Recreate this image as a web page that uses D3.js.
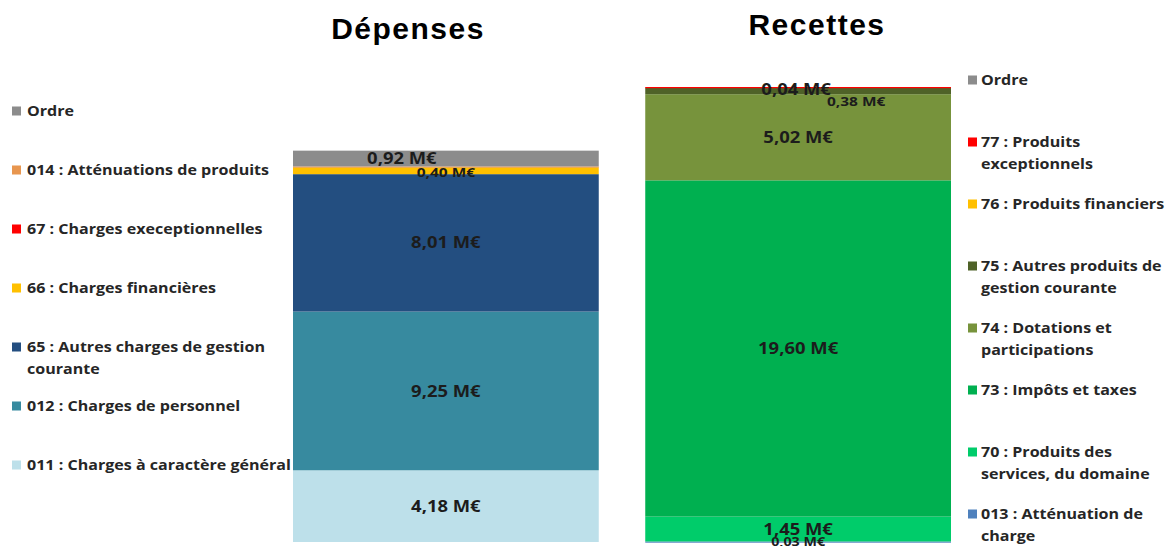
<!DOCTYPE html>
<html><head><meta charset="utf-8">
<script src="https://cdn.jsdelivr.net/npm/d3@7"></script>
<style>body{margin:0;background:#fff}svg{display:block}</style>
</head><body>
<svg id="c" width="1173" height="546"></svg>
<script>
// ----- data -----
const panels = ["Dépenses", "Recettes"];
// stacked from bottom to top
const depCategories = ["011 : Charges à caractère général", "012 : Charges de personnel", "65 : Autres charges de gestion courante", "66 : Charges financières", "67 : Charges execeptionnelles", "014 : Atténuations de produits", "Ordre"];
const depValues = [4.18, 9.25, 8.01, 0.40, 0.00, 0.05, 0.92];
const depLabels = ["4,18 M€", "9,25 M€", "8,01 M€", "0,40 M€", "", "", "0,92 M€"];
const depColors = ["#bde0ea", "#378a9f", "#234e80", "#ffc000", "#ff0000", "#e8964f", "#8c8c8c"];

const recCategories = ["013 : Atténuation de charge", "70 : Produits des services, du domaine", "73 : Impôts et taxes", "74 : Dotations et participations", "75 : Autres produits de gestion courante", "76 : Produits financiers", "77 : Produits exceptionnels", "Ordre"];
const recValues = [0.03, 1.45, 19.60, 5.02, 0.38, 0.00, 0.04, 0.00];
const recLabels = ["0,03 M€", "1,45 M€", "19,60 M€", "5,02 M€", "0,38 M€", "", "0,04 M€", ""];
const recColors = ["#4f81bd", "#00cc6a", "#00b050", "#77933c", "#4f6228", "#ffc000", "#ff0000", "#8c8c8c"];

// legend line breaks (top-to-bottom order in legend)
const depLegendLines = [["Ordre"], ["014 : Atténuations de produits"], ["67 : Charges execeptionnelles"], ["66 : Charges financières"], ["65 : Autres charges de gestion", "courante"], ["012 : Charges de personnel"], ["011 : Charges à caractère général"]];
const recLegendLines = [["Ordre"], ["77 : Produits", "exceptionnels"], ["76 : Produits financiers"], ["75 : Autres produits de", "gestion courante"], ["74 : Dotations et", "participations"], ["73 : Impôts et taxes"], ["70 : Produits des", "services, du domaine"], ["013 : Atténuation de", "charge"]];

// ----- drawing -----
const svg = d3.select("#c");
const font = "'Open Sans', Lato, sans-serif";
const stretch = 1.19; // the reference text is horizontally widened

const x = d3.scaleBand().domain(panels).range([293, 951]).paddingInner(0.132).paddingOuter(0);
const total = Math.max(d3.sum(depValues), d3.sum(recValues));
const y = d3.scaleLinear().domain([0, total]).range([542, 87]);

function legend(lines, colors, x0, y0, step, tx) {
  // legend listed top-to-bottom; colors given bottom-to-top
  const n = lines.length;
  const g = svg.append("g");
  lines.forEach((ls, i) => {
    const cy = y0 + i * step;
    g.append("rect").attr("x", x0).attr("y", cy - 4.5).attr("width", 9).attr("height", 9)
      .attr("fill", colors[n - 1 - i]);
    ls.forEach((t, j) => {
      g.append("text").attr("transform", `translate(${x0 + tx},${cy + j * 22}) scale(${stretch},1)`)
        .attr("dy", "0.36em")
        .attr("font-family", font).attr("font-weight", 700).attr("font-size", 13.5)
        .attr("fill", "#262626").text(t);
    });
  });
}
legend(depLegendLines, depColors, 12, 111, 59, 15);
legend(recLegendLines, recColors, 968, 80, 62, 13);

function stackBar(panel, values, colors, labels, labelOffsets) {
  let acc = 0;
  const segs = values.map((v, i) => { const s = {v, y0: acc, y1: acc + v, c: colors[i], l: labels[i], i}; acc += v; return s; });
  const g = svg.append("g");
  g.selectAll("rect").data(segs.filter(s => s.v > 0)).join("rect")
    .attr("x", x(panel)).attr("width", x.bandwidth())
    .attr("y", s => y(s.y1)).attr("height", s => Math.max(1.2, y(s.y0) - y(s.y1)))
    .attr("fill", s => s.c);
  g.selectAll("text").data(segs.filter(s => s.l)).join("text")
    .attr("transform", s => {
      const o = labelOffsets[s.i] || [0, 0];
      const tx = x(panel) + x.bandwidth() / 2 + o[0];
      const ty = y((s.y0 + s.y1) / 2) + o[1];
      return `translate(${tx},${ty}) scale(${stretch},1)`;
    })
    .attr("dy", "0.36em").attr("text-anchor", "middle")
    .attr("font-family", font).attr("font-weight", 700)
    .attr("font-size", s => (labelOffsets[s.i] && labelOffsets[s.i][2]) || 15.5)
    .attr("fill", "#1c1c1c").text(s => s.l);
}
stackBar("Dépenses", depValues, depColors, depLabels, {3: [0, 1.5, 13], 6: [-44, 0, 15.5]});
stackBar("Recettes", recValues, recColors, recLabels, {0: [0, 0, 12], 4: [58, 10, 13], 6: [-2, 2, 15.5]});

// titles
svg.append("text").attr("x", 408).attr("y", 39).attr("text-anchor", "middle")
  .attr("font-family", "Arial, 'Liberation Sans', sans-serif").attr("font-weight", 700)
  .attr("font-size", 30).attr("letter-spacing", 1.5).text("Dépenses");
svg.append("text").attr("x", 817).attr("y", 35).attr("text-anchor", "middle")
  .attr("font-family", "Arial, 'Liberation Sans', sans-serif").attr("font-weight", 700)
  .attr("font-size", 30).attr("letter-spacing", 1.5).text("Recettes");
</script>
</body></html>
